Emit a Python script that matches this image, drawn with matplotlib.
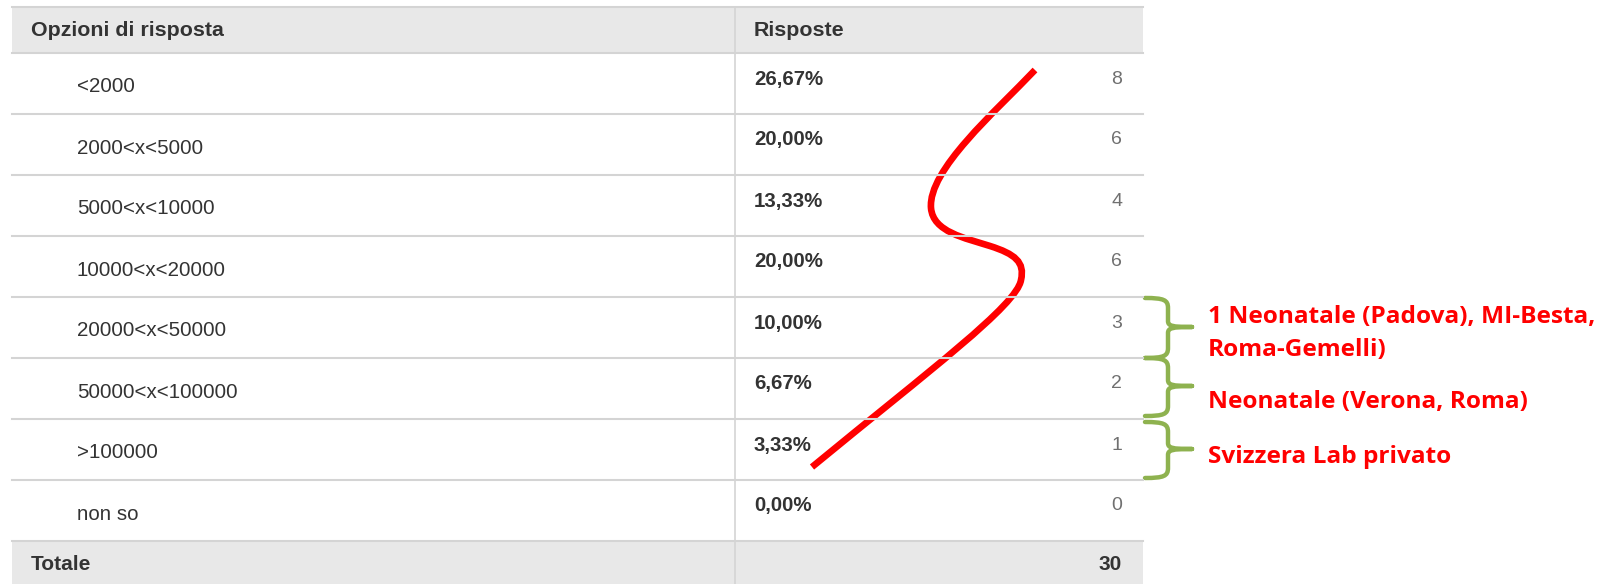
import matplotlib.pyplot as plt
from matplotlib.path import Path
from matplotlib.patches import PathPatch, Rectangle

options = ["<2000", "2000<x<5000", "5000<x<10000", "10000<x<20000",
           "20000<x<50000", "50000<x<100000", ">100000", "non so"]
percents = ["26,67%", "20,00%", "13,33%", "20,00%", "10,00%", "6,67%", "3,33%", "0,00%"]
counts = [8, 6, 4, 6, 3, 2, 1, 0]
total = 30

# notes attached to rows 4, 5, 6 (0-based)
note_rows = [4, 5, 6]
note_lines = [
    ["1 Neonatale (Padova), MI-Besta,", "Roma-Gemelli)"],
    ["Neonatale (Verona, Roma)"],
    ["Svizzera Lab privato"],
]

W, H = 1604, 584
fig = plt.figure(figsize=(W / 100, H / 100), dpi=100)
ax = fig.add_axes([0, 0, 1, 1])
ax.set_xlim(0, W)
ax.set_ylim(H, 0)
ax.axis("off")

plt.rcParams["font.family"] = ["Liberation Sans", "DejaVu Sans"]

left, mid, right = 12, 735, 1143
head_top, head_bot = 7, 53
row_h = 61
tot_top = head_bot + row_h * len(options)
grid = "#d4d4d4"
band = "#e8e8e8"
dark = "#333333"

# header and total bands
ax.add_patch(Rectangle((left, head_top), right - left, head_bot - head_top, color=band, lw=0))
ax.add_patch(Rectangle((left, tot_top), right - left, H - tot_top, color=band, lw=0))
ax.plot([left, right], [head_top, head_top], color=grid, lw=1.5)
for i in range(len(options) + 1):
    y = head_bot + row_h * i
    ax.plot([left, right], [y, y], color=grid, lw=1.5)
ax.plot([mid, mid], [head_top, H], color=grid, lw=1.2)

ax.text(31, 30, "Opzioni di risposta", fontsize=15.4, fontweight="bold", color=dark, va="center")
ax.text(754, 30, "Risposte", fontsize=15.4, fontweight="bold", color=dark, va="center")

for i, (opt, pc, n) in enumerate(zip(options, percents, counts)):
    top = head_bot + row_h * i
    ax.text(77, top + 34, opt, fontsize=14.8, color=dark, va="center")
    ax.text(754, top + 26, pc, fontsize=14.7, fontweight="bold", color=dark, va="center")
    ax.text(1122, top + 26, str(n), fontsize=14, color="#707070", va="center", ha="right")

ax.text(31, 565, "Totale", fontsize=15, fontweight="bold", color=dark, va="center")
ax.text(1122, 565, str(total), fontsize=15, fontweight="bold", color=dark, va="center", ha="right")

# red hand-drawn curve
curve = Path(
    [(1035, 70), (995, 112), (928, 170), (931, 208),
     (933, 232), (965, 238), (990, 246),
     (1015, 254), (1025, 262), (1021, 280),
     (1017, 305), (930, 370), (812, 467)],
    [Path.MOVETO] + [Path.CURVE4] * 12,
)
ax.add_patch(PathPatch(curve, fill=False, edgecolor="#ff0000", lw=4.8, capstyle="butt"))

# green braces with notes
brace_spans = [(298, 358), (358, 416), (422, 478)]
baselines = [[323, 356], [408], [463]]
x0, xs, xt = 1145, 1168, 1192
red_font = dict(fontsize=17.6, fontweight="bold", color="#ff0000", family=["Open Sans", "DejaVu Sans"])
for (a, b), lines, ys in zip(brace_spans, note_lines, baselines):
    m = (a + b) / 2 - 1
    verts = [(x0, a), (xs - 4, a), (xs, a + 2), (xs, a + 10),
             (xs, m - 6),
             (xs, m - 1), (xs + 4, m), (xt, m),
             (xt, m), (xs + 4, m), (xs, m + 1),
             (xs, m + 6),
             (xs, b - 10), (xs, b - 2), (xs - 4, b), (x0, b)]
    codes = [Path.MOVETO, Path.CURVE4, Path.CURVE4, Path.CURVE4,
             Path.LINETO,
             Path.CURVE4, Path.CURVE4, Path.CURVE4,
             Path.MOVETO, Path.CURVE4, Path.CURVE4, Path.CURVE4,
             Path.LINETO,
             Path.CURVE4, Path.CURVE4, Path.CURVE4]
    ax.add_patch(PathPatch(Path(verts, codes), fill=False, edgecolor="#8eb24f", lw=3.2,
                           capstyle="round", joinstyle="round"))
    for line, y in zip(lines, ys):
        ax.text(1208, y, line, va="baseline", **red_font)

fig.savefig("out.png", dpi=100)
